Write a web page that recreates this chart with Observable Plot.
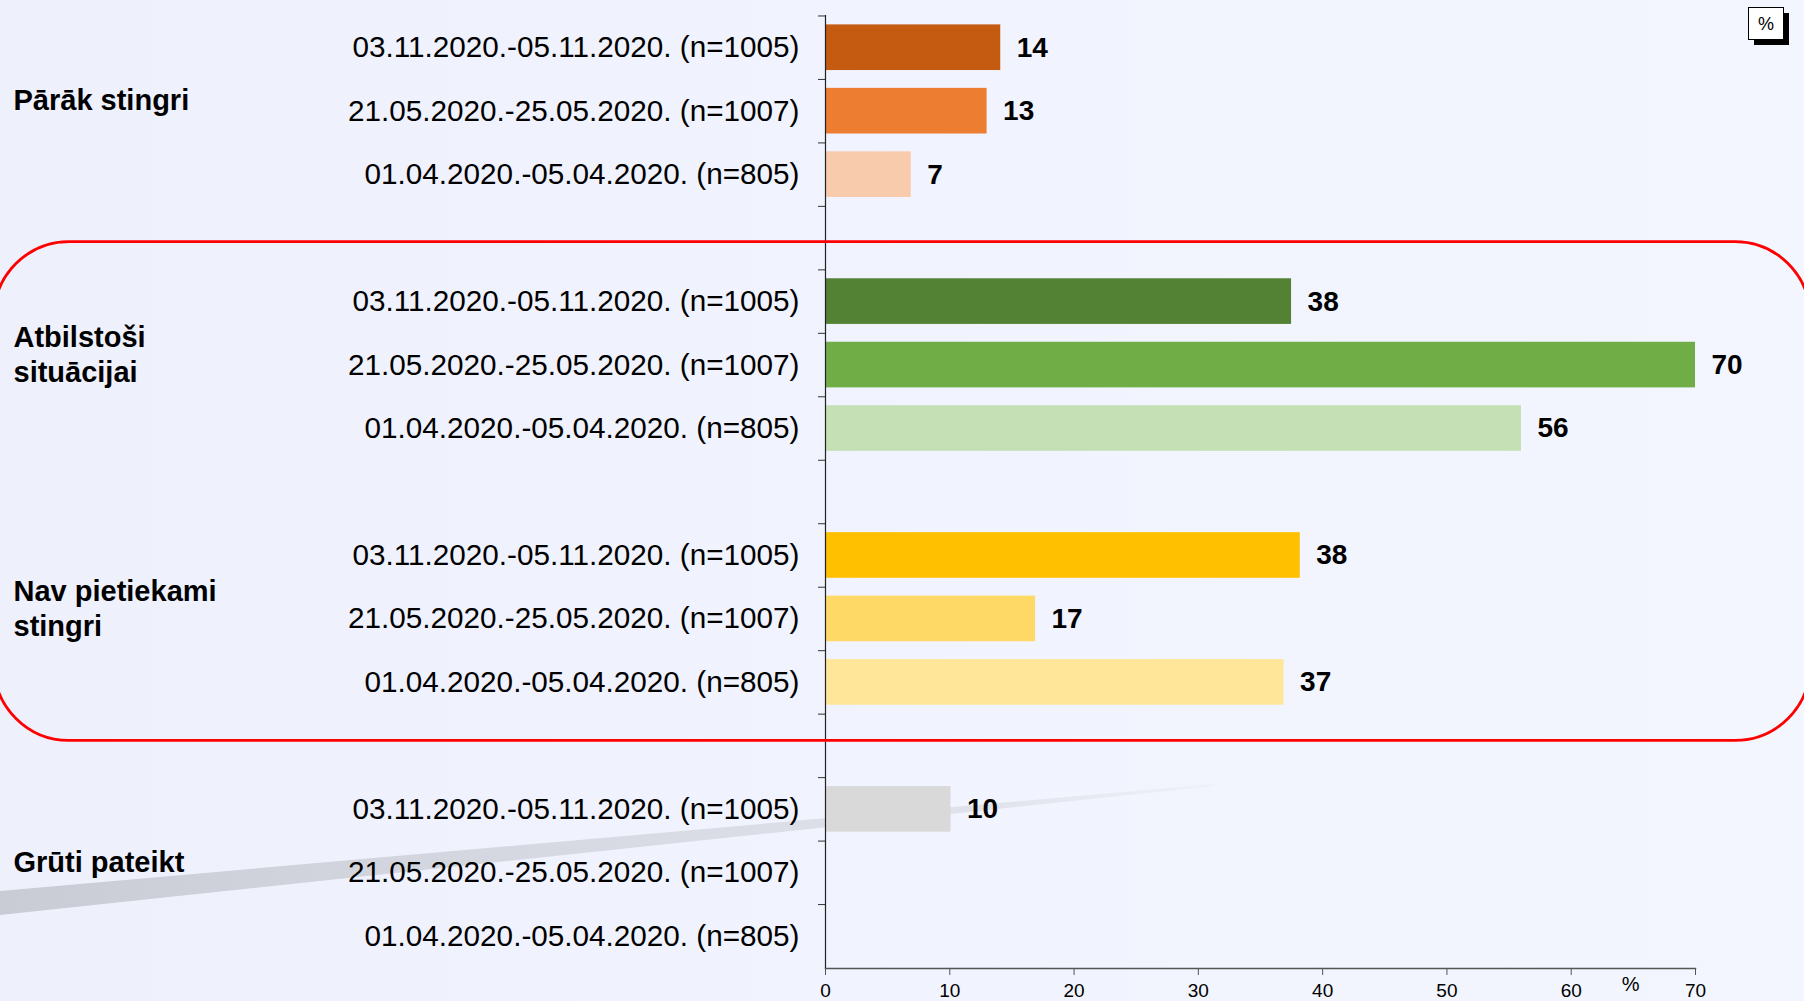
<!DOCTYPE html>
<html><head><meta charset="utf-8">
<script src="https://cdn.jsdelivr.net/npm/d3@7"></script>
<script src="https://cdn.jsdelivr.net/npm/@observablehq/plot@0.6"></script>
<style>
html,body{margin:0;padding:0;overflow:hidden}
body{background:linear-gradient(90deg,#EEF0FC 0%,#F1F3FE 50%,#F3F6FE 100%)}
#chart{position:relative;width:1804px;height:1001px}
</style></head><body><div id="chart"></div>
<script>
const groups = ["Pārāk stingri", "Atbilstoši\nsituācijai", "Nav pietiekami\nstingri", "Grūti pateikt"];
const periods = ["03.11.2020.-05.11.2020. (n=1005)", "21.05.2020.-25.05.2020. (n=1007)", "01.04.2020.-05.04.2020. (n=805)"];
const valuesNov2020 = [14.1, 37.5, 38.2, 10.1];
const valuesMay2020 = [13, 70, 16.9, null];
const valuesApr2020 = [6.9, 56, 36.9, null];
const groupColors = [
  ["#C55A11", "#ED7D31", "#F8CBAD"],
  ["#548235", "#70AD47", "#C5E0B4"],
  ["#FFC000", "#FFD966", "#FFE699"],
  ["#D9D9D9", "#D9D9D9", "#D9D9D9"]
];
const xTicks = [0, 10, 20, 30, 40, 50, 60, 70];
const unitLabel = "%";

const series = [valuesNov2020, valuesMay2020, valuesApr2020];
const yDomain = [];
const labelOf = new Map();
groups.forEach((g, gi) => {
  periods.forEach((p, pi) => { const k = `${gi}|${pi}`; yDomain.push(k); labelOf.set(k, p); });
  if (gi < groups.length - 1) { const k = `${gi}|gap`; yDomain.push(k); labelOf.set(k, ""); }
});
const rows = [];
groups.forEach((g, gi) => periods.forEach((p, pi) => {
  const v = series[pi][gi];
  if (v != null) rows.push({key: `${gi}|${pi}`, value: v, color: groupColors[gi][pi]});
}));
const groupRows = groups.map((g, gi) => ({key: `${gi}|1`, label: g}));

const W = 1804, H = 1001, mL = 825, mR = 109, mT = 15, mB = 33;
const step = (H - mT - mB) / (yDomain.length - 0.281 + 2 * 0.148);
const font = "'Liberation Sans', Arial, sans-serif";

const plot = Plot.plot({
  width: W, height: H,
  marginLeft: mL, marginRight: mR, marginTop: mT, marginBottom: mB,
  style: {background: "transparent", fontFamily: font, color: "#000", overflow: "visible"},
  x: {domain: [0, 70]},
  y: {domain: yDomain, paddingInner: 0.281, paddingOuter: 0.148, round: false},
  color: {type: "identity"},
  marks: [
    Plot.barX(rows, {x: "value", y: "key", fill: "color"}),
    Plot.text(rows, {x: "value", y: "key", text: d => String(Math.round(d.value)), dx: 16, textAnchor: "start",
      fontSize: 28, fontWeight: "bold", fill: "#000"}),
    Plot.axisY({tickSize: 0, tickPadding: 26, tickFormat: k => labelOf.get(k), fontSize: 29.7, label: null, fill: "#000"}),
    Plot.ruleY(yDomain, {y: d => d, x1: 0, x2: 0, insetLeft: -7, dy: -step / 2, stroke: "#333"}),
    Plot.ruleX([0], {stroke: "#222", strokeWidth: 1.2}),
    Plot.frame({anchor: "bottom", stroke: "#555", strokeWidth: 1.5}),
    Plot.axisX({ticks: xTicks, tickSize: 7, tickPadding: 8, fontSize: 19, label: null, stroke: "#555", fill: "#000"}),
    Plot.text(groupRows, {y: "key", text: "label", frameAnchor: "left", dx: -(mL - 13), dy: -12,
      textAnchor: "start", lineAnchor: "middle", lineHeight: 1.21, fontSize: 29, fontWeight: "bold", fill: "#000"}),
    Plot.text([unitLabel], {frameAnchor: "bottom-right", dx: -56, dy: 22, fontSize: 20, fill: "#000"})
  ]
});

document.getElementById("chart").appendChild(plot);

// decorations
const svg = d3.select(plot);
const ys = plot.scale("y");
const yc = k => ys.apply(k) + ys.bandwidth / 2;

const defs = svg.insert("defs", ":first-child");
const grad = defs.append("linearGradient").attr("id", "swoosh").attr("x1", "0").attr("x2", "1").attr("y1", "0").attr("y2", "0");
grad.append("stop").attr("offset", "0%").attr("stop-color", "#C9CCD5");
grad.append("stop").attr("offset", "45%").attr("stop-color", "#D6D9E1");
grad.append("stop").attr("offset", "80%").attr("stop-color", "#DFE2EA");
grad.append("stop").attr("offset", "100%").attr("stop-color", "#EEF1FA");
svg.insert("polygon", "defs + *")
  .attr("points", "0,891 1214,784 1214,786 0,915")
  .attr("fill", "url(#swoosh)");

svg.append("rect")
  .attr("x", -6).attr("width", W + 12)
  .attr("y", yc("0|gap") + 4)
  .attr("height", (yc("2|gap") - 5) - (yc("0|gap") + 4))
  .attr("rx", 75).attr("ry", 75)
  .attr("fill", "none").attr("stroke", "#FF0000").attr("stroke-width", 2.8);

const box = svg.append("g");
box.append("rect").attr("x", 1754).attr("y", 13).attr("width", 35).attr("height", 32).attr("fill", "#000");
box.append("rect").attr("x", 1748.5).attr("y", 7.5).attr("width", 35).attr("height", 32).attr("fill", "#fff").attr("stroke", "#000");
box.append("text").attr("x", 1766).attr("y", 30).attr("text-anchor", "middle").attr("font-size", 18)
  .attr("font-family", font).text(unitLabel);
</script></body></html>
